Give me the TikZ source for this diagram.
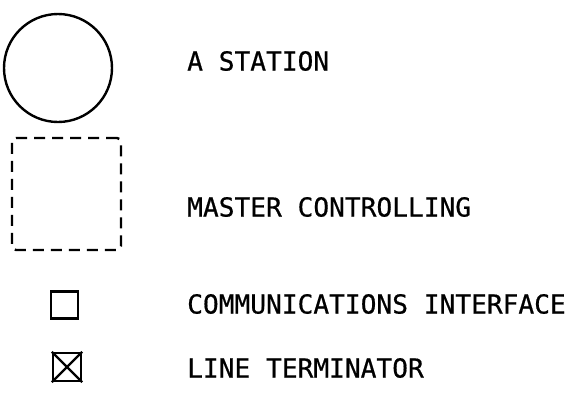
\documentclass[tikz,border=0pt]{standalone}
\usepackage{fontspec}
\newfontfamily\plotfont[FakeBold=0.6]{DejaVu Sans Mono}
\begin{document}
\begin{tikzpicture}[x=1pt,y=-1pt,
  shape line/.style={draw=black, line width=2.4pt},
  legend text/.style={anchor=west, inner sep=0pt, font=\plotfont\fontsize{26.2}{30}\selectfont},
  dashbox/.style={shape line, dash pattern=on 11pt off 7pt, rounded corners=4pt, minimum width=109pt, minimum height=112pt, inner sep=0pt},
  smallbox/.style={shape line, minimum size=27pt, inner sep=0pt}]
\useasboundingbox (0,0) rectangle (576,394);
\node[shape line, circle, minimum size=108pt, inner sep=0pt] (station) at (58,68) {};
\node[dashbox] (master) at (66.5,194) {};
\node[smallbox] (ci) at (64.5,305) {};
\node[smallbox, minimum width=28pt, minimum height=28pt] (lt) at (67,367) {};
\draw[line width=2.4pt] (lt.north west) -- (lt.south east) (lt.north east) -- (lt.south west);
\node[legend text] (t1) at (187,61) {A STATION};
\node[legend text] (t2) at (187,207) {MASTER CONTROLLING};
\node[legend text] (t3) at (187,304) {COMMUNICATIONS INTERFACE};
\node[legend text] (t4) at (187,368) {LINE TERMINATOR};
\end{tikzpicture}
\end{document}
